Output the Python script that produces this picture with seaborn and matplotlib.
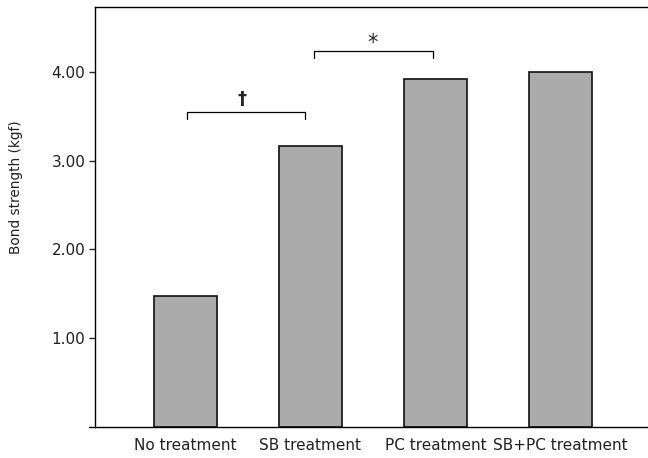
import matplotlib
matplotlib.use("Agg")
import matplotlib.pyplot as plt
import seaborn as sns
import pandas as pd

# ----------------------------------------------------------
# Data
# ----------------------------------------------------------

groups = ["No treatment", "SB treatment", "PC treatment", "SB+PC treatment"]
strength = [1.47, 3.16, 3.92, 4.00]
yticks = [1.0, 2.0, 3.0, 4.0]
ytick_labels = ["1.00", "2.00", "3.00", "4.00"]

df = pd.DataFrame({"group": groups, "strength": strength})

# ----------------------------------------------------------
# Plot
# ----------------------------------------------------------

sns.set_style("white")
plt.rcParams["font.family"] = ["DejaVu Sans"]

fig = plt.figure(figsize=(6.48, 4.58), dpi=100)
ax = fig.add_axes([0.1466, 0.0677, 0.8534, 0.917])

sns.barplot(
    data=df,
    x="group",
    y="strength",
    color="#ababab",
    edgecolor="#111111",
    linewidth=1.2,
    width=0.5,
    saturation=1,
    ax=ax
)

ax.set_xlim(-0.724, 3.70)
ax.set_ylim(0, 4.73)

ax.set_yticks(yticks)
ax.set_yticklabels(ytick_labels, fontsize=11, color="#222222")
ax.set_xticks(range(len(groups)))
ax.set_xticklabels(groups, fontsize=11, color="#222222")

ax.set_xlabel("")
ax.set_ylabel("Bond strength (kgf)", fontsize=9.8, color="#222222")
ax.yaxis.set_label_coords(-0.13, 0.57)

ax.tick_params(axis="y", direction="out", length=4, width=1, left=True, pad=3)
ax.tick_params(axis="x", length=0, pad=8)

for side in ["left", "bottom", "top"]:
    ax.spines[side].set_color("black")
    ax.spines[side].set_linewidth(1.0)
ax.spines["right"].set_visible(False)

# small overhang of the baseline to the left of the y axis
ax.plot([-0.011, 0], [0, 0], transform=ax.transAxes,
        color="black", linewidth=1.0, clip_on=False)

# ----------------------------------------------------------
# Significance brackets
# ----------------------------------------------------------

ax.plot([0.01, 0.01, 0.96, 0.96], [3.47, 3.55, 3.55, 3.47],
        color="black", linewidth=0.9)
ax.text(0.45, 3.59, "\u2020", ha="center", va="bottom",
        fontsize=13, fontweight="bold")

ax.plot([1.03, 1.03, 1.98, 1.98], [4.16, 4.24, 4.24, 4.16],
        color="black", linewidth=0.9)
ax.text(1.50, 4.21, "*", ha="center", va="bottom", fontsize=15)

fig.savefig("out.png", dpi=100)
